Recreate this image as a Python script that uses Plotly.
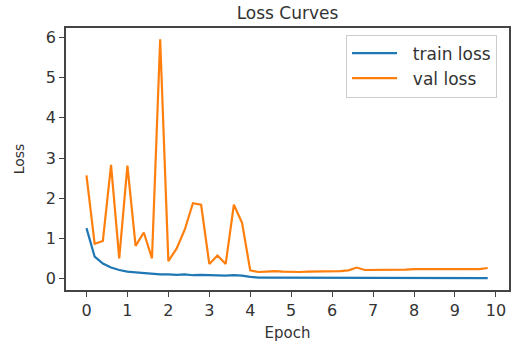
import plotly.graph_objects as go

epochs = [round(i * 0.2, 1) for i in range(50)]

train_loss = [1.26, 0.55, 0.38, 0.28, 0.22, 0.18, 0.16, 0.14, 0.13, 0.11,
              0.11, 0.10, 0.11, 0.09, 0.10, 0.09, 0.09, 0.08, 0.09, 0.08,
              0.05, 0.03, 0.03, 0.03, 0.03, 0.03, 0.02, 0.02, 0.02, 0.02,
              0.02, 0.02, 0.02, 0.02, 0.02, 0.02, 0.02, 0.02, 0.02, 0.02,
              0.02, 0.02, 0.02, 0.02, 0.02, 0.02, 0.02, 0.02, 0.02, 0.02]

val_loss = [2.57, 0.87, 0.94, 2.83, 0.51, 2.81, 0.82, 1.15, 0.51, 5.95,
            0.44, 0.75, 1.22, 1.88, 1.84, 0.37, 0.58, 0.37, 1.84, 1.39,
            0.21, 0.17, 0.18, 0.19, 0.18, 0.17, 0.17, 0.18, 0.18, 0.18,
            0.19, 0.19, 0.21, 0.28, 0.22, 0.22, 0.22, 0.23, 0.23, 0.23,
            0.24, 0.24, 0.24, 0.25, 0.25, 0.24, 0.25, 0.24, 0.24, 0.27]

x_ticks = list(range(0, 11))
y_ticks = list(range(0, 7))
series_names = ["train loss", "val loss"]

font_family = "DejaVu Sans"
text_col = "#333333"
pad = "\u00a0\u00a0"

fig = go.Figure()
fig.add_trace(go.Scatter(x=epochs, y=train_loss, mode="lines", name=pad + series_names[0],
                         line=dict(color="#1f77b4", width=2.2)))
fig.add_trace(go.Scatter(x=epochs, y=val_loss, mode="lines", name=pad + series_names[1],
                         line=dict(color="#ff7f0e", width=2.2)))

fig.update_layout(
    width=525, height=351,
    margin=dict(l=66, r=16, t=28, b=48),
    paper_bgcolor="white", plot_bgcolor="white",
    font=dict(family=font_family, color=text_col),
    title=dict(text="Loss Curves", x=(66 + 509) / 2 / 525, xanchor="center",
               y=1 - 13 / 351, yanchor="middle",
               font=dict(size=17, color=text_col)),
    showlegend=True,
    legend=dict(x=0.973, y=0.975, xanchor="right", yanchor="top",
                bgcolor="white", bordercolor="#cccccc", borderwidth=1,
                itemwidth=45,
                font=dict(size=17, color=text_col), tracegroupgap=0),
    xaxis=dict(range=[-0.5, 10.32], tickvals=x_ticks, ticktext=[str(v) for v in x_ticks],
               showgrid=False, zeroline=False, showline=True, mirror=True,
               linecolor="#444444", linewidth=1.5, ticks="outside", ticklen=5,
               tickcolor="#444444", tickfont=dict(size=16, color=text_col),
               title=dict(text="Epoch", font=dict(size=15, color=text_col), standoff=9)),
    yaxis=dict(range=[-0.277, 6.23], tickvals=y_ticks, ticktext=[str(v) for v in y_ticks],
               showgrid=False, zeroline=False, showline=True, mirror=True,
               linecolor="#444444", linewidth=1.5, ticks="outside", ticklen=5,
               tickcolor="#444444", tickfont=dict(size=16, color=text_col),
               title=dict(text="Loss", font=dict(size=14, color=text_col), standoff=18)),
)

fig.write_html("out.html")
